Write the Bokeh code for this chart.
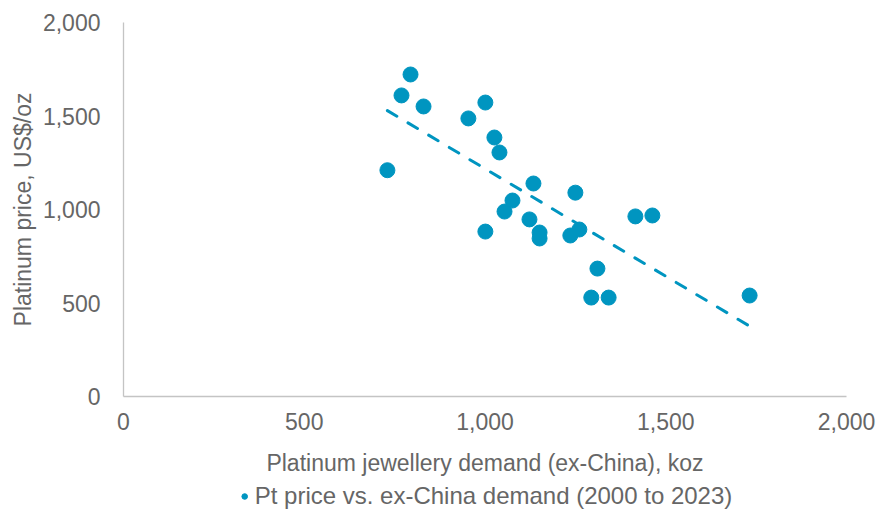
import numpy as np
from bokeh.plotting import figure
from bokeh.layouts import column
from bokeh.models import Range1d, Legend, LegendItem, NumeralTickFormatter, FixedTicker, ColumnDataSource
from bokeh.embed import file_html
from bokeh.resources import INLINE

# Platinum jewellery demand ex-China (koz) vs platinum price (US$/oz), 2000-2023
demand = [730, 769, 794, 830, 954, 1001, 1026, 1040, 1134, 1054, 1076, 1001,
          1123, 1151, 1151, 1250, 1236, 1261, 1311, 1294, 1342, 1416, 1463, 1732]
price = [1210, 1610, 1722, 1551, 1487, 1572, 1385, 1305, 1139, 989, 1048, 882,
         947, 877, 845, 1090, 861, 893, 684, 529, 529, 963, 968, 540]
x_ticks = [0, 500, 1000, 1500, 2000]
y_ticks = [0, 500, 1000, 1500, 2000]
series_label = "Pt price vs. ex-China demand (2000 to 2023)"
x_title = "Platinum jewellery demand (ex-China), koz"
y_title = "Platinum price, US$/oz"

BLUE = "#0095C0"
GREY_TXT = "#666666"
AXIS = "#C4C4C4"
FONT = "Liberation Sans"
FS = "23px"

# Linear trend line (least squares) over the data range
slope, intercept = np.polyfit(demand, price, 1)
tx = [min(demand), max(demand)]
ty = [slope * v + intercept for v in tx]

p = figure(width=879, height=482, output_backend="svg", toolbar_location=None,
           x_range=Range1d(0, 2000), y_range=Range1d(0, 2000),
           min_border_left=123, min_border_right=33, min_border_top=22,
           min_border_bottom=86)
p.outline_line_color = None
p.grid.grid_line_color = None
p.background_fill_color = "white"
p.border_fill_color = "white"

src = ColumnDataSource(dict(x=demand, y=price))
sc = p.scatter("x", "y", source=src, size=15, fill_color=BLUE, line_color=BLUE)
p.line(tx, ty, line_color=BLUE, line_width=3, line_dash="11 13", line_cap="round")

for ax, ticks, title in ((p.xaxis[0], x_ticks, x_title), (p.yaxis[0], y_ticks, y_title)):
    ax.ticker = FixedTicker(ticks=ticks)
    ax.formatter = NumeralTickFormatter(format="0,0")
    ax.axis_line_color = AXIS
    ax.axis_line_width = 1.3
    ax.major_tick_line_color = None
    ax.minor_tick_line_color = None
    ax.major_tick_out = 0
    ax.major_tick_in = 0
    ax.minor_tick_out = 0
    ax.major_label_text_font = FONT
    ax.major_label_text_font_size = FS
    ax.major_label_text_color = GREY_TXT
    ax.axis_label = title
    ax.axis_label_text_font = FONT
    ax.axis_label_text_font_size = FS
    ax.axis_label_text_font_style = "normal"
    ax.axis_label_text_color = GREY_TXT

p.yaxis[0].major_label_standoff = 23
p.yaxis[0].axis_label_standoff = 4
p.xaxis[0].major_label_standoff = 16
p.xaxis[0].axis_label_standoff = 17

# Legend strip below the chart (its data lie outside this strip's ranges, so only the legend shows)
p2 = figure(width=879, height=28, output_backend="svg", toolbar_location=None,
            x_range=Range1d(-20, -10), y_range=Range1d(-20, -10),
            x_axis_type=None, y_axis_type=None,
            min_border_left=94, min_border_right=0, min_border_top=0, min_border_bottom=0)
p2.outline_line_color = None
p2.grid.grid_line_color = None
p2.background_fill_color = "white"
p2.border_fill_color = "white"
legend_glyph = p2.scatter("x", "y", source=src, size=15, fill_color=BLUE, line_color=BLUE)
legend = Legend(items=[LegendItem(label=series_label, renderers=[legend_glyph])],
                location="center", orientation="horizontal",
                border_line_color=None, background_fill_alpha=0,
                label_text_font=FONT, label_text_font_size="24px",
                label_text_color=GREY_TXT, glyph_width=14, glyph_height=14,
                label_standoff=4, padding=0, margin=0, spacing=0)
p2.add_layout(legend, "center")

layout = column(p, p2, spacing=0)
open("out.html", "w").write(file_html(layout, INLINE))
